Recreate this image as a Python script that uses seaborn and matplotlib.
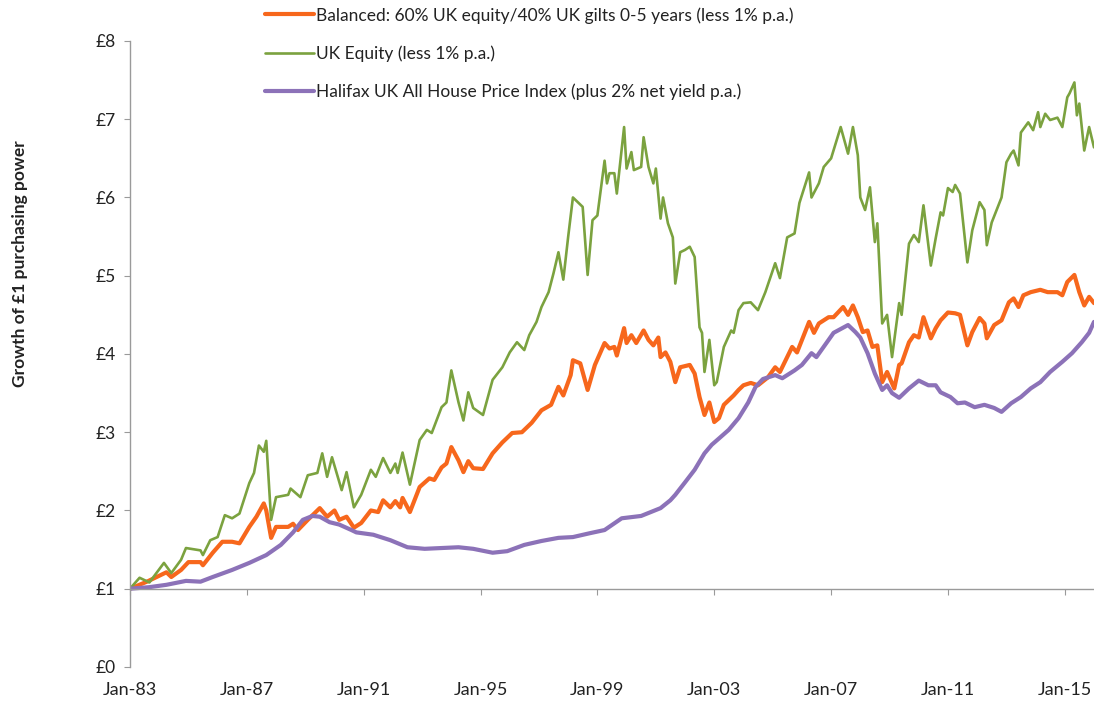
import numpy as np
import pandas as pd
import matplotlib
matplotlib.use("Agg")
import matplotlib.pyplot as plt
import matplotlib.dates as mdates
import seaborn as sns

# months after Jan-1983 and value of £1
bal_month = [0, 7, 11, 15, 17, 21, 24, 29, 30, 34, 38, 42, 45, 49, 52, 55, 56, 58, 60, 65,
             67, 69, 73, 78, 81, 84, 86, 89, 92, 95, 99, 102, 104, 107, 109, 111, 112, 115, 119, 123,
             125, 128, 130, 132, 135, 137, 139, 141, 145, 149, 153, 157, 161, 165, 169, 173, 176, 178, 181, 182,
             185, 188, 191, 195, 197, 199, 200, 203, 204, 206, 208, 211, 213, 215, 217, 218, 220, 222, 224, 226,
             230, 232, 234, 236, 238, 240, 242, 244, 248, 250, 252, 255, 258, 262, 265, 267, 272, 274, 279, 281,
             283, 285, 287, 289, 293, 295, 297, 299, 301, 303, 305, 307, 309, 311, 314, 316, 317, 320, 322, 324,
             326, 329, 331, 333, 336, 339, 341, 344, 346, 349, 351, 352, 355, 358, 361, 363, 365, 367, 370, 374,
             377, 381, 383, 385, 388, 390, 392, 394, 396]
bal_value = [1.00, 1.09, 1.15, 1.21, 1.15, 1.24, 1.34, 1.34, 1.30, 1.46, 1.60, 1.60, 1.58, 1.79, 1.92, 2.09, 2.00, 1.65, 1.79, 1.79,
             1.83, 1.75, 1.88, 2.03, 1.92, 2.00, 1.88, 1.92, 1.78, 1.84, 2.00, 1.98, 2.13, 2.04, 2.12, 2.04, 2.16, 1.98, 2.30, 2.41,
             2.39, 2.55, 2.60, 2.81, 2.64, 2.49, 2.63, 2.54, 2.53, 2.73, 2.87, 2.99, 3.00, 3.12, 3.28, 3.35, 3.58, 3.47, 3.73, 3.92,
             3.88, 3.54, 3.86, 4.14, 4.07, 4.09, 3.98, 4.33, 4.14, 4.24, 4.14, 4.30, 4.18, 4.11, 4.21, 3.96, 4.02, 3.90, 3.64, 3.83,
             3.86, 3.75, 3.45, 3.22, 3.38, 3.13, 3.18, 3.35, 3.47, 3.54, 3.60, 3.63, 3.60, 3.70, 3.83, 3.77, 4.09, 4.02, 4.41, 4.27,
             4.39, 4.43, 4.47, 4.47, 4.60, 4.50, 4.62, 4.47, 4.28, 4.30, 4.09, 4.11, 3.64, 3.77, 3.56, 3.86, 3.88, 4.15, 4.24, 4.21,
             4.47, 4.20, 4.33, 4.43, 4.53, 4.52, 4.50, 4.11, 4.28, 4.46, 4.39, 4.20, 4.37, 4.43, 4.66, 4.71, 4.60, 4.75, 4.79, 4.82,
             4.79, 4.79, 4.75, 4.92, 5.01, 4.79, 4.62, 4.73, 4.65]

eq_month = [0, 4, 8, 14, 17, 21, 23, 29, 30, 33, 36, 39, 42, 45, 49, 51, 53, 55, 56, 58,
            60, 65, 66, 70, 73, 77, 79, 81, 83, 87, 89, 92, 95, 99, 101, 104, 107, 109, 110, 112,
            115, 119, 122, 124, 128, 130, 132, 135, 137, 139, 141, 145, 149, 153, 156, 159, 162, 164, 167, 169,
            172, 174, 176, 178, 180, 182, 186, 188, 190, 192, 195, 196, 197, 199, 200, 203, 204, 206, 207, 210,
            211, 213, 215, 216, 218, 219, 221, 223, 224, 226, 228, 230, 232, 234, 235, 236, 238, 240, 241, 244,
            247, 248, 250, 252, 255, 258, 261, 265, 267, 270, 273, 275, 279, 280, 283, 285, 288, 292, 295, 297,
            299, 300, 302, 304, 306, 307, 309, 311, 313, 316, 317, 320, 322, 324, 326, 329, 331, 333, 334, 336,
            338, 339, 341, 344, 346, 349, 351, 352, 354, 358, 360, 362, 363, 365, 366, 369, 371, 373, 374, 376,
            378, 381, 383, 385, 386, 388, 389, 390, 392, 394, 396]
eq_value = [1.00, 1.14, 1.08, 1.33, 1.20, 1.37, 1.52, 1.49, 1.43, 1.62, 1.66, 1.94, 1.90, 1.96, 2.35, 2.48, 2.83, 2.75, 2.89, 1.88,
            2.17, 2.20, 2.28, 2.17, 2.45, 2.48, 2.73, 2.43, 2.68, 2.26, 2.49, 2.04, 2.20, 2.52, 2.43, 2.67, 2.48, 2.60, 2.48, 2.74,
            2.33, 2.90, 3.03, 2.99, 3.32, 3.38, 3.79, 3.38, 3.15, 3.51, 3.31, 3.22, 3.67, 3.83, 4.02, 4.15, 4.05, 4.24, 4.41, 4.60,
            4.79, 5.03, 5.30, 4.95, 5.50, 6.00, 5.88, 5.01, 5.71, 5.77, 6.47, 6.18, 6.31, 6.31, 6.05, 6.90, 6.37, 6.58, 6.35, 6.39,
            6.77, 6.39, 6.18, 6.37, 5.73, 6.00, 5.67, 5.49, 4.90, 5.30, 5.33, 5.37, 5.24, 4.34, 4.27, 3.77, 4.18, 3.60, 3.64, 4.09,
            4.30, 4.27, 4.56, 4.65, 4.66, 4.56, 4.79, 5.16, 4.97, 5.49, 5.54, 5.93, 6.32, 6.00, 6.18, 6.39, 6.50, 6.90, 6.56, 6.90,
            6.54, 6.00, 5.84, 6.13, 5.43, 5.67, 4.39, 4.50, 3.96, 4.65, 4.50, 5.41, 5.52, 5.43, 5.90, 5.13, 5.48, 5.81, 5.77, 6.12,
            6.07, 6.16, 6.05, 5.17, 5.58, 5.94, 5.84, 5.39, 5.68, 6.00, 6.45, 6.56, 6.60, 6.41, 6.83, 6.96, 6.86, 7.09, 6.90, 7.07,
            6.99, 7.02, 6.90, 7.28, 7.33, 7.47, 7.05, 7.20, 6.60, 6.90, 6.64]

hpi_month = [0, 8, 15, 23, 29, 34, 42, 49, 56, 62, 67, 71, 75, 78, 82, 86, 91, 93, 100, 107,
             114, 121, 128, 135, 141, 149, 155, 162, 169, 176, 182, 189, 195, 202, 210, 218, 222, 224, 228, 232,
             236, 239, 242, 246, 250, 254, 257, 260, 265, 268, 273, 276, 280, 282, 287, 289, 295, 298, 300, 303,
             306, 309, 311, 313, 316, 320, 324, 328, 331, 333, 337, 340, 343, 347, 351, 355, 358, 362, 366, 370,
             374, 378, 383, 387, 391, 394, 396]
hpi_value = [1.00, 1.02, 1.05, 1.10, 1.09, 1.15, 1.24, 1.33, 1.43, 1.56, 1.72, 1.88, 1.93, 1.92, 1.85, 1.82, 1.75, 1.72, 1.69, 1.62,
             1.53, 1.51, 1.52, 1.53, 1.51, 1.46, 1.48, 1.56, 1.61, 1.65, 1.66, 1.71, 1.75, 1.90, 1.93, 2.03, 2.13, 2.20, 2.36, 2.52,
             2.73, 2.84, 2.92, 3.03, 3.18, 3.38, 3.58, 3.68, 3.73, 3.69, 3.79, 3.86, 4.01, 3.96, 4.18, 4.27, 4.37, 4.28, 4.21, 4.01,
             3.75, 3.54, 3.60, 3.50, 3.44, 3.56, 3.66, 3.60, 3.60, 3.51, 3.45, 3.37, 3.38, 3.32, 3.35, 3.31, 3.26, 3.37, 3.45, 3.56,
             3.64, 3.77, 3.90, 4.01, 4.15, 4.27, 4.41]

labels = ["Balanced: 60% UK equity/40% UK gilts 0-5 years (less 1% p.a.)",
          "UK Equity (less 1% p.a.)",
          "Halifax UK All House Price Index (plus 2% net yield p.a.)"]
colors = ["#F7671C", "#7BA23F", "#8C72B8"]
widths = [3.0, 1.9, 3.0]
tick_dates = pd.date_range("1983-01-01", "2015-01-01", freq="48MS")
y_ticks = [0, 1, 2, 3, 4, 5, 6, 7, 8]

months = pd.date_range("1983-01-01", periods=397, freq="MS")

sns.set_style("white")
plt.rcParams["font.family"] = ["Lato", "DejaVu Sans"]

fig = plt.figure(figsize=(10.94, 7.04), dpi=100)
ax = fig.add_axes([0.1188, 0.0526, 0.8812, 0.8892])

series = [(bal_month, bal_value), (eq_month, eq_value), (hpi_month, hpi_value)]
for (m, v), lab, col, lw in zip(series, labels, colors, widths):
    df = pd.DataFrame({"date": months[m], "value": v})
    sns.lineplot(data=df, x="date", y="value", ax=ax, color=col, linewidth=lw, label=lab)

ax.set_xlim(months[0], months[396])
ax.set_ylim(0, 8)
ax.set_yticks(y_ticks)
ax.set_yticklabels([f"£{t}" for t in y_ticks])
ax.set_xticks(tick_dates)
ax.xaxis.set_major_formatter(mdates.DateFormatter("%b-%y"))

for s in ["top", "right"]:
    ax.spines[s].set_visible(False)
ax.spines["bottom"].set_position(("data", 1))
for s in ["left", "bottom"]:
    ax.spines[s].set_color("#9a9a9a")
    ax.spines[s].set_linewidth(1.0)

ax.tick_params(axis="y", direction="out", length=4, width=0.8, color="#9a9a9a",
               labelsize=12.5, labelcolor="#222222", pad=6, left=True)
ax.tick_params(axis="x", direction="out", length=4, width=0.8, color="#9a9a9a",
               labelsize=13, labelcolor="#222222", pad=63, bottom=True)

ax.set_xlabel("")
ax.set_ylabel("Growth of £1 purchasing power", fontsize=12.5, fontweight="bold", color="#222222")
ax.yaxis.set_label_coords(-0.106, 0.645)

leg = ax.legend(loc="upper left", bbox_to_anchor=(0.236, 1.0), bbox_transform=fig.transFigure,
                frameon=False, fontsize=12.5, handlelength=2.8, handletextpad=0.15,
                labelspacing=1.25, borderaxespad=0)
for t in leg.get_texts():
    t.set_color("#222222")

fig.savefig("out.png", dpi=100)
